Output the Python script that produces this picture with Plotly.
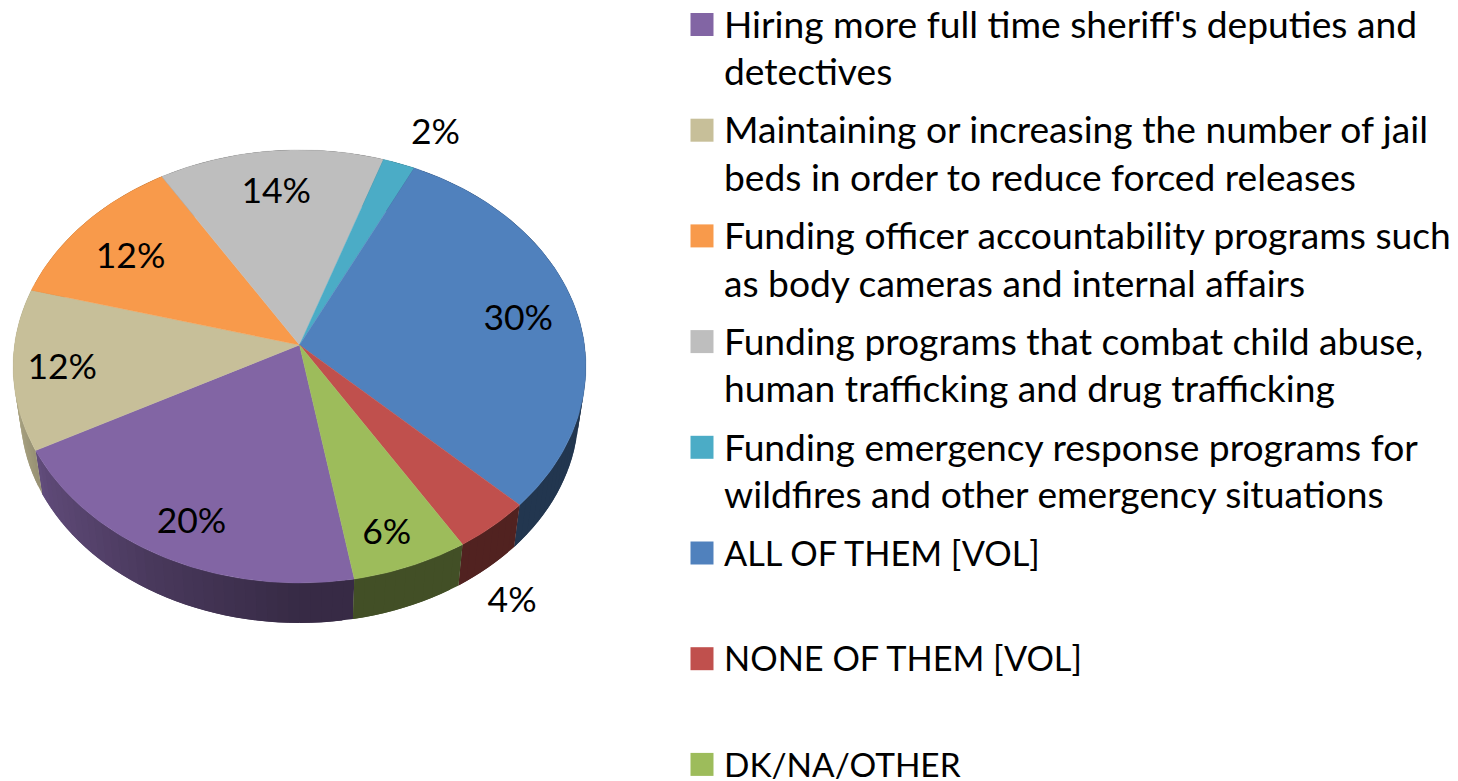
import math
import plotly.graph_objects as go

# ---- data ----
categories = [
    ["Hiring more full time sheriff's deputies and", "detectives"],
    ["Maintaining or increasing the number of jail", "beds in order to reduce forced releases"],
    ["Funding officer accountability programs such", "as body cameras and internal affairs"],
    ["Funding programs that combat child abuse,", "human trafficking and drug trafficking"],
    ["Funding emergency response programs for", "wildfires and other emergency situations"],
    ["ALL OF THEM [VOL]"],
    ["NONE OF THEM [VOL]"],
    ["DK/NA/OTHER"],
]
values = [20, 12, 12, 14, 2, 30, 4, 6]
colors = ["#8265A4", "#C7BF99", "#F89A4B", "#BEBEBE", "#4BACC6", "#5081BD", "#C0504D", "#9DBC5B"]

# ---- style / layout constants ----
W, H = 1458, 781
START_DEG = 170.0
CX, CY, RX, RY_K, RY = 299.5, 345.0, 285.0, 0.099, 214.4
DEPTH, BOTTOM_SCALE = 46.0, 0.975
LABEL_RADIUS = [0.83, 0.83, 0.76, 0.79, 1.23, 0.79, 1.25, 0.845]
LABEL_TURN = [-1, 0, -1.3, 0, 3.1, 0, 6.5, 1.3]
LABEL_DY = 5
LEGEND_ROW0, LEGEND_ROW_STEP, LEGEND_LINE_STEP = 24.5, 105.7, 47.5
LEGEND_SQUARE_X, LEGEND_TEXT_X, LEGEND_TEXT_DY = 702, 724, 4
FONT = "Lato"
LEGEND_SIZE, LEGEND_CAPS_SIZE, LEGEND_LAST_SIZE, LABEL_SIZE = 37.2, 34.3, 33.4, 35.5


def project(r, deg):
    """Perspective view of a disc point: r in unit radii, deg clockwise from the back."""
    a = math.radians(deg)
    u, v = r * math.sin(a), r * math.cos(a)
    d = 1 + RY_K * v
    return CX + RX * u / d, CY - RY * v / d


def project_bottom(r, deg):
    x, y = project(r, deg)
    return CX + (x - CX) * BOTTOM_SCALE, CY + DEPTH + (y - CY) * BOTTOM_SCALE


def shade(hex_color, f):
    rgb = [int(hex_color[i:i + 2], 16) for i in (1, 3, 5)]
    return "rgb({},{},{})".format(*[round(c * f) for c in rgb])


def wall_factor(x):
    stops = [(13, 0.85), (45, 0.72), (150, 0.56), (300, 0.42), (600, 0.42)]
    for (x0, f0), (x1, f1) in zip(stops, stops[1:]):
        if x <= x1:
            return f0 + (f1 - f0) * (max(x, x0) - x0) / (x1 - x0)
    return stops[-1][1]


total = sum(values)
edges = [START_DEG]
for val in values:
    edges.append(edges[-1] + 360.0 * val / total)

fig = go.Figure()

# side walls: each strip runs under the next one so no seams show
for i, col in enumerate(colors):
    a0, a1 = edges[i], edges[i + 1]
    n = max(1, math.ceil((a1 - a0) / 2.0))
    step = (a1 - a0) / n
    for j in range(n):
        d0 = a0 + step * j
        d1 = min(a1, d0 + 2 * step)
        arc = [d0 + (d1 - d0) * t / 4 for t in range(5)]
        p = [project(1, d) for d in arc] + [project_bottom(1, d) for d in reversed(arc)]
        p.append(p[0])
        c = shade(col, wall_factor((project(1, d0)[0] + project(1, d0 + step)[0]) / 2))
        fig.add_trace(go.Scatter(x=[q[0] for q in p], y=[q[1] for q in p], mode="lines",
                                 fill="toself", fillcolor=c, line=dict(width=0),
                                 hoverinfo="skip", showlegend=False))

# top faces
for i, col in enumerate(colors):
    a0, a1 = edges[i], edges[i + 1]
    n = max(2, math.ceil(a1 - a0))
    pts = [project(0, a0)] + [project(1, a0 + (a1 - a0) * j / n) for j in range(n + 1)] + [project(0, a0)]
    fig.add_trace(go.Scatter(x=[q[0] for q in pts], y=[q[1] for q in pts], mode="lines",
                             fill="toself", fillcolor=col, line=dict(color=col, width=0.4),
                             hoverinfo="skip", showlegend=False, name=" ".join(categories[i])))

# value labels
lx, ly, lt = [], [], []
for i, val in enumerate(values):
    mid = (edges[i] + edges[i + 1]) / 2 + LABEL_TURN[i]
    x, y = project(LABEL_RADIUS[i], mid)
    lx.append(x); ly.append(y + LABEL_DY); lt.append(f"{val}%")
fig.add_trace(go.Scatter(x=lx, y=ly, text=lt, mode="text", hoverinfo="skip", showlegend=False,
                         textposition="middle center",
                         textfont=dict(family=FONT, size=LABEL_SIZE, color="black")))

# legend
rows = [LEGEND_ROW0 + LEGEND_ROW_STEP * i for i in range(len(categories))]
fig.add_trace(go.Scatter(x=[LEGEND_SQUARE_X] * len(rows), y=rows, mode="markers", hoverinfo="skip",
                         showlegend=False,
                         marker=dict(symbol="square", size=23, color=colors, line=dict(width=0))))
tx, ty, tt, ts = [], [], [], []
for row, lines in zip(rows, categories):
    for k, line in enumerate(lines):
        tx.append(LEGEND_TEXT_X); ty.append(row + k * LEGEND_LINE_STEP + LEGEND_TEXT_DY); tt.append(line)
        ts.append(LEGEND_CAPS_SIZE if line.upper() == line else LEGEND_SIZE)
ts[-1] = LEGEND_LAST_SIZE
fig.add_trace(go.Scatter(x=tx, y=ty, text=tt, mode="text", hoverinfo="skip", showlegend=False,
                         textposition="middle right", cliponaxis=False,
                         textfont=dict(family=FONT, size=ts, color="black")))

fig.update_layout(
    width=W, height=H, margin=dict(l=0, r=0, t=0, b=0),
    paper_bgcolor="white", plot_bgcolor="white", showlegend=False,
    xaxis=dict(range=[0, W], visible=False, fixedrange=True),
    yaxis=dict(range=[H, 0], visible=False, fixedrange=True),
)
fig.write_html("out.html", post_script="document.body.style.margin='0';document.body.style.overflow='hidden';",
               config={"displayModeBar": False})
